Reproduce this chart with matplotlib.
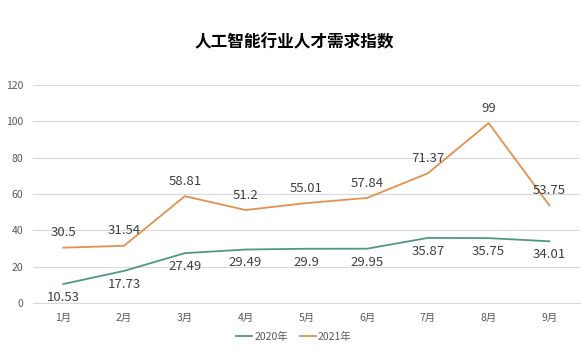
import matplotlib
matplotlib.use('Agg')
import matplotlib.pyplot as plt

plt.rcParams['font.family'] = ['Noto Sans CJK SC', 'DejaVu Sans']

months = ['1月', '2月', '3月', '4月', '5月', '6月', '7月', '8月', '9月']
y2020 = [10.53, 17.73, 27.49, 29.49, 29.9, 29.95, 35.87, 35.75, 34.01]
y2021 = [30.5, 31.54, 58.81, 51.2, 55.01, 57.84, 71.37, 99, 53.75]
yticks = [0, 20, 40, 60, 80, 100, 120]

c2020 = '#4f9a7c'
c2021 = '#e3914c'

fig = plt.figure(figsize=(5.88, 3.55), dpi=100)
ax = fig.add_axes([0.056, 0.146, 0.93, 0.615])

x = list(range(len(months)))
ax.plot(x, y2020, color=c2020, lw=1.3, label='2020年')
ax.plot(x, y2021, color=c2021, lw=1.3, label='2021年')

# 数据标签：2021在上，2020在下
for i, v in enumerate(y2021):
    ax.annotate(f'{v:g}', (i, v), xytext=(0, 6), textcoords='offset points',
                ha='center', va='bottom', fontsize=9.5, color='#404040')
for i, v in enumerate(y2020):
    ax.annotate(f'{v:g}', (i, v), xytext=(0, -5), textcoords='offset points',
                ha='center', va='top', fontsize=9.5, color='#404040')

ax.set_xlim(-0.5, len(months) - 0.5)
ax.set_ylim(0, 120)
ax.set_yticks(yticks)
ax.set_xticks(x)
ax.set_xticklabels(months)
ax.tick_params(axis='both', length=0, labelsize=7.5, colors='#595959', pad=7)
ax.grid(axis='y', color='#d9d9d9', lw=0.8)
ax.set_axisbelow(True)
for s in ['top', 'right', 'left']:
    ax.spines[s].set_visible(False)
ax.spines['bottom'].set_color('#d9d9d9')

fig.suptitle('人工智能行业人才需求指数', y=0.905, fontsize=12, fontweight='bold', color='#000000')
fig.legend(loc='lower center', bbox_to_anchor=(0.5, 0.01), ncol=2, frameon=False,
           fontsize=7.5, labelcolor='#595959', handlelength=1.5, handletextpad=0.2,
           columnspacing=1.2)

fig.savefig('out.png', dpi=100)
